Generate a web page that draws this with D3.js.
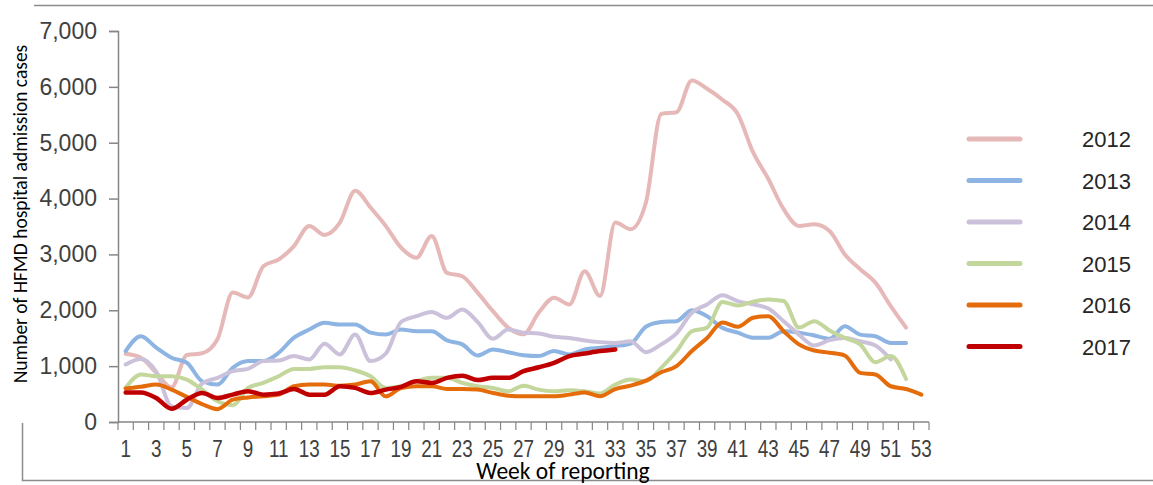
<!DOCTYPE html>
<html>
<head>
<meta charset="utf-8">
<script src="https://cdn.jsdelivr.net/npm/d3@7"></script>
<style>
  body { margin: 0; background: #fff; }
  #chart { width: 1153px; height: 485px; }
  .tick text { font-family: "Liberation Sans", Arial, sans-serif; fill: #404040; }
</style>
</head>
<body>
<div id="chart"></div>
<script>
var width = 1153
var height = 485

var margin = {top: 31, right: 224, bottom: 63, left: 118}

var weeks = d3.range(1, 54)
var years = ['2012', '2013', '2014', '2015', '2016', '2017']
var colors = ['#E6B9B8', '#8DB4E2', '#CCC1DA', '#C3D69B', '#E46C0A', '#C00000']
var yTicks = [0, 1000, 2000, 3000, 4000, 5000, 6000, 7000]

// weekly admissions per year
var cases2012 = [1220, 1150, 880, 620, 1200, 1230, 1480, 2320, 2230, 2790, 2910, 3150, 3510, 3350,
  3570, 4140, 3840, 3510, 3120, 2940, 3330, 2670, 2610, 2315, 1985, 1690, 1570, 1960, 2225, 2105,
  2700, 2255, 3570, 3450, 3930, 5515, 5545, 6115, 5965, 5770, 5515, 4830, 4350, 3810, 3510, 3540,
  3420, 3000, 2735, 2495, 2075, 1690]
var cases2013 = [1270, 1535, 1330, 1150, 1060, 730, 670, 970, 1090, 1090, 1240, 1510, 1655, 1775,
  1745, 1745, 1600, 1565, 1655, 1625, 1625, 1460, 1390, 1190, 1300, 1250, 1195, 1180, 1270, 1210,
  1300, 1330, 1360, 1405, 1705, 1790, 1805, 2000, 1895, 1685, 1600, 1510, 1510, 1625, 1600, 1550,
  1490, 1715, 1565, 1535, 1415, 1415]
var cases2014 = [1030, 1130, 900, 280, 250, 690, 790, 910, 950, 1090, 1100, 1180, 1120, 1400,
  1210, 1565, 1090, 1225, 1790, 1895, 1970, 1865, 2015, 1790, 1490, 1655, 1600, 1585, 1525, 1505,
  1460, 1430, 1415, 1445, 1250, 1390, 1585, 1955, 2105, 2270, 2165, 2105, 2030, 1805, 1565, 1370,
  1465, 1505, 1445, 1370, 1120]
var cases2015 = [610, 850, 820, 820, 760, 580, 370, 300, 610, 700, 820, 950, 950, 980,
  980, 925, 820, 610, 640, 730, 790, 790, 700, 640, 610, 550, 650, 580, 550, 570,
  550, 510, 670, 760, 730, 970, 1265, 1625, 1690, 2150, 2085, 2155, 2195, 2165, 1690, 1805,
  1640, 1505, 1390, 1070, 1180, 770]
var cases2016 = [600, 630, 670, 580, 450, 320, 230, 400, 440, 460, 490, 640, 670, 670,
  650, 670, 730, 460, 610, 640, 640, 590, 590, 580, 520, 470, 460, 460, 460, 490,
  530, 460, 590, 650, 740, 890, 1000, 1270, 1505, 1780, 1705, 1865, 1895, 1625, 1390, 1280,
  1240, 1190, 880, 850, 640, 590, 490]
var cases2017 = [530, 530, 430, 235, 400, 520, 430, 490, 550, 490, 510, 590, 490, 490,
  640, 610, 520, 580, 630, 730, 700, 790, 830, 750, 790, 790, 910, 980, 1060, 1180,
  1225, 1270, 1300]

var series = [cases2012, cases2013, cases2014, cases2015, cases2016, cases2017]

var svg = d3.select('#chart')
  .append('svg')
  .attr('width', width)
  .attr('height', height)

// frame pieces
svg.append('line').attr('x1', 34).attr('x2', width).attr('y1', 5.5).attr('y2', 5.5)
  .attr('stroke', '#8c8c8c').attr('stroke-width', 1.5)
svg.append('path').attr('d', 'M22.5,423V480.5H' + width)
  .attr('fill', 'none').attr('stroke', '#8c8c8c').attr('stroke-width', 1.5)

var plotW = width - margin.left - margin.right
var plotH = height - margin.top - margin.bottom

var x = d3.scaleBand()
  .domain(weeks)
  .range([0, plotW])

var y = d3.scaleLinear()
  .domain([0, 7000])
  .range([plotH, 0])

var g = svg.append('g')
  .attr('transform', 'translate(' + margin.left + ',' + margin.top + ')')

// y axis
var yAxis = g.append('g')
  .call(d3.axisLeft(y).tickValues(yTicks).tickSize(9).tickPadding(12).tickFormat(d3.format(',')))
yAxis.selectAll('text').style('font-size', '23px')
yAxis.selectAll('line, path').attr('stroke', '#868686').attr('stroke-width', 1.5)

// x axis with ticks on category boundaries
var xAxis = g.append('g')
  .attr('transform', 'translate(0,' + plotH + ')')
xAxis.append('line')
  .attr('x1', 0).attr('x2', plotW)
  .attr('stroke', '#868686').attr('stroke-width', 1.5)
xAxis.selectAll('.bound')
  .data(d3.range(0, weeks.length + 1))
  .enter().append('line')
  .attr('x1', function(i) { return i * x.bandwidth() })
  .attr('x2', function(i) { return i * x.bandwidth() })
  .attr('y1', 0).attr('y2', 8)
  .attr('stroke', '#868686').attr('stroke-width', 1.2)
xAxis.selectAll('.lbl')
  .data(weeks.filter(function(w) { return w % 2 == 1 }))
  .enter().append('text')
  .attr('transform', function(w) {
    return 'translate(' + (x(w) + x.bandwidth() / 2) + ',34.5) scale(0.82,1)'
  })
  .attr('text-anchor', 'middle')
  .style('font-family', '"Liberation Sans", Arial, sans-serif')
  .style('font-size', '23px')
  .style('fill', '#404040')
  .text(function(w) { return w })

// axis titles
svg.append('text')
  .attr('transform', 'translate(27,214) rotate(-90)')
  .attr('text-anchor', 'middle')
  .style('font-family', 'Carlito, "Open Sans", sans-serif')
  .style('font-size', '19.5px')
  .style('fill', '#000')
  .text('Number of HFMD hospital admission cases')

svg.append('text')
  .attr('x', 563)
  .attr('y', 479)
  .attr('text-anchor', 'middle')
  .style('font-family', 'Carlito, "Open Sans", sans-serif')
  .style('font-size', '23.5px')
  .style('fill', '#000')
  .text('Week of reporting')

// lines
var line = d3.line()
  .x(function(d, i) { return x(weeks[i]) + x.bandwidth() / 2 })
  .y(function(d) { return y(d) })
  .curve(d3.curveMonotoneX)

g.selectAll('.series')
  .data(series)
  .enter().append('path')
  .attr('d', line)
  .attr('fill', 'none')
  .attr('stroke', function(d, i) { return colors[i] })
  .attr('stroke-width', function(d, i) { return i == 5 ? 4.5 : 4 })
  .attr('stroke-linejoin', 'round')
  .attr('stroke-linecap', 'round')

// legend
var legend = svg.append('g')
  .attr('transform', 'translate(969,139)')
var item = legend.selectAll('.item')
  .data(years)
  .enter().append('g')
  .attr('transform', function(d, i) { return 'translate(0,' + (i * 41.5) + ')' })
item.append('line')
  .attr('x1', 0).attr('x2', 51)
  .attr('stroke', function(d, i) { return colors[i] })
  .attr('stroke-width', 5)
  .attr('stroke-linecap', 'round')
item.append('text')
  .attr('x', 113)
  .attr('y', 8)
  .style('font-family', '"Liberation Sans", Arial, sans-serif')
  .style('font-size', '22px')
  .style('fill', '#262626')
  .text(function(d) { return d })
</script>
</body>
</html>
